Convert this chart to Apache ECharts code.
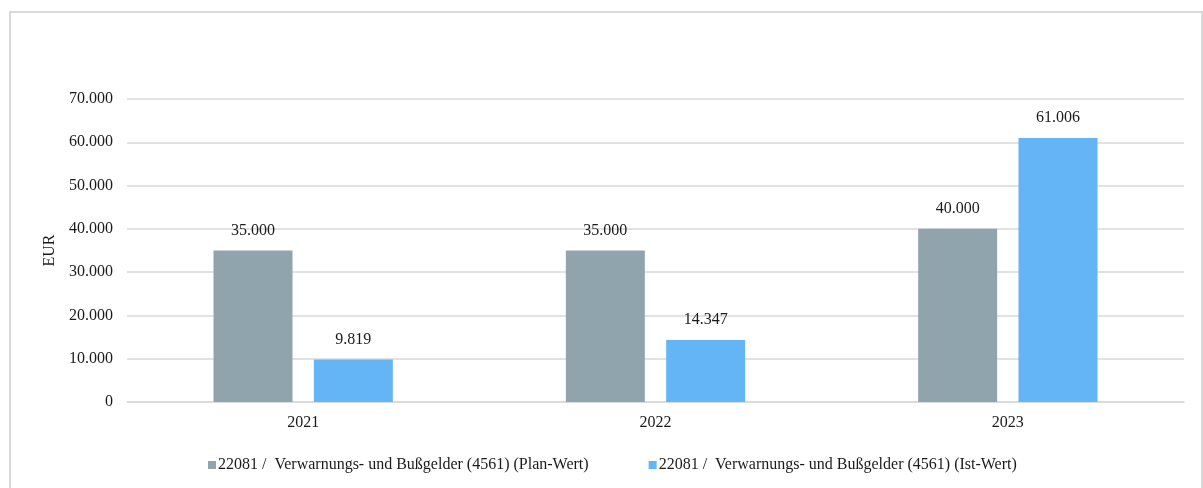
<!DOCTYPE html>
<html>
<head>
<meta charset="utf-8">
<script src="https://cdn.jsdelivr.net/npm/echarts@6/dist/echarts.min.js"></script>
<style>
html,body{margin:0;padding:0;background:#fff;}
#chart{width:1203px;height:488px;}
</style>
</head>
<body>
<div id="chart"></div>
<script>
var categories = ['2021', '2022', '2023'];
var planName = '22081 /  Verwarnungs- und Bußgelder (4561) (Plan-Wert)';
var istName = '22081 /  Verwarnungs- und Bußgelder (4561) (Ist-Wert)';
var planValues = [35000, 35000, 40000];
var istValues = [9819, 14347, 61006];
var yTicks = [0, 10000, 20000, 30000, 40000, 50000, 60000, 70000];

function fmt(v) {
  return String(Math.round(v)).replace(/\B(?=(\d{3})+(?!\d))/g, '.');
}

var FONT = '"Liberation Serif", "Times New Roman", serif';
var chart = echarts.init(document.getElementById('chart'));
chart.setOption({
  animation: false,
  textStyle: { fontFamily: FONT, color: '#1a1a1a' },
  graphic: [{
    type: 'rect',
    shape: { x: 10, y: 12, width: 1192, height: 520 },
    style: { fill: 'none', stroke: '#d9d9d9', lineWidth: 2 },
    silent: true
  }],
  grid: { left: 127, right: 19, top: 99, bottom: 86 },
  legend: {
    left: 203,
    top: 452,
    itemWidth: 8,
    itemHeight: 8,
    itemGap: 60,
    icon: 'rect',
    textStyle: { fontFamily: FONT, fontSize: 16, color: '#1a1a1a', padding: [0, 0, 0, -3] },
    data: [planName, istName]
  },
  xAxis: {
    type: 'category',
    data: categories,
    axisTick: { show: false },
    axisLine: { lineStyle: { color: '#d9d9d9', width: 1.5 } },
    axisLabel: { fontFamily: FONT, fontSize: 16, color: '#1a1a1a', margin: 13 }
  },
  yAxis: {
    type: 'value',
    min: yTicks[0],
    max: yTicks[yTicks.length - 1],
    interval: 10000,
    name: 'EUR',
    nameLocation: 'middle',
    nameGap: 67,
    nameRotate: 90,
    nameTextStyle: { fontFamily: FONT, fontSize: 16, color: '#1a1a1a' },
    axisLine: { show: false },
    axisTick: { show: false },
    splitLine: { lineStyle: { color: '#d9d9d9', width: 1.5 } },
    axisLabel: { fontFamily: FONT, fontSize: 16, color: '#1a1a1a', margin: 14, formatter: fmt }
  },
  series: [{
    name: planName,
    type: 'bar',
    data: planValues,
    barWidth: 79,
    barGap: '27%',
    itemStyle: { color: '#90A4AE' },
    label: { show: true, position: 'top', distance: 12, fontFamily: FONT, fontSize: 16, color: '#1a1a1a', formatter: function (p) { return fmt(p.value); } }
  }, {
    name: istName,
    type: 'bar',
    data: istValues,
    barWidth: 79,
    barGap: '27%',
    itemStyle: { color: '#64B5F6' },
    label: { show: true, position: 'top', distance: 12, fontFamily: FONT, fontSize: 16, color: '#1a1a1a', formatter: function (p) { return fmt(p.value); } }
  }]
});
</script>
</body>
</html>
